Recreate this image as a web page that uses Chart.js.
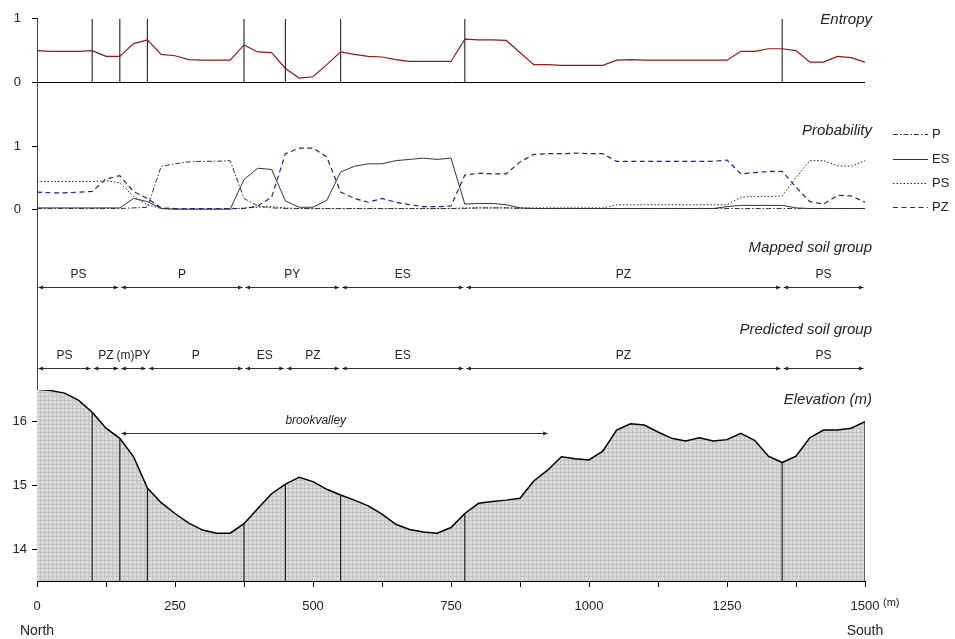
<!DOCTYPE html>
<html>
<head>
<meta charset="utf-8">
<title>Transect North - South</title>
<script src="https://cdn.jsdelivr.net/npm/chart.js@4.4.1/dist/chart.umd.min.js"></script>
<style>
  html, body { margin: 0; padding: 0; background: #fff; }
  #wrap { width: 955px; height: 639px; }
</style>
</head>
<body>
<div id="wrap"><canvas id="chart-transect"></canvas></div>
<script>
// distance along the transect (m)
var distance = [0, 25, 50, 75, 100, 125, 150, 175, 200, 225,
    250, 275, 300, 325, 350, 375, 400, 425, 450, 475,
    500, 525, 550, 575, 600, 625, 650, 675, 700, 725,
    750, 775, 800, 825, 850, 875, 900, 925, 950, 975,
    1000, 1025, 1050, 1075, 1100, 1125, 1150, 1175, 1200, 1225,
    1250, 1275, 1300, 1325, 1350, 1375, 1400, 1425, 1450, 1475,
    1500];

var entropy = [0.50, 0.49, 0.49, 0.49, 0.50, 0.41, 0.41, 0.61, 0.67, 0.44,
    0.42, 0.36, 0.35, 0.35, 0.35, 0.59, 0.48, 0.47, 0.22, 0.07,
    0.09, 0.28, 0.48, 0.44, 0.41, 0.40, 0.36, 0.33, 0.33, 0.33,
    0.33, 0.68, 0.67, 0.67, 0.66, 0.47, 0.28, 0.28, 0.27, 0.27,
    0.27, 0.27, 0.35, 0.36, 0.35, 0.35, 0.35, 0.35, 0.35, 0.35,
    0.35, 0.49, 0.49, 0.53, 0.53, 0.50, 0.32, 0.32, 0.41, 0.39,
    0.32];

// class probabilities
var probP = [0.01, 0.01, 0.01, 0.01, 0.01, 0.01, 0.01, 0.02, 0.03, 0.68,
    0.72, 0.75, 0.76, 0.76, 0.77, 0.17, 0.05, 0.02, 0.01, 0.01,
    0.01, 0.01, 0.01, 0.01, 0.01, 0.01, 0.01, 0.01, 0.01, 0.01,
    0.01, 0.01, 0.02, 0.02, 0.02, 0.01, 0.01, 0.01, 0.01, 0.01,
    0.01, 0.01, 0.01, 0.01, 0.01, 0.01, 0.01, 0.01, 0.01, 0.01,
    0.01, 0.01, 0.01, 0.01, 0.01, 0.01, 0.01, 0.01, 0.01, 0.01,
    0.01];
var probES = [0.02, 0.02, 0.02, 0.02, 0.02, 0.02, 0.02, 0.17, 0.12, 0.01,
    0.00, 0.00, 0.00, 0.00, 0.00, 0.47, 0.65, 0.63, 0.13, 0.03,
    0.03, 0.14, 0.59, 0.68, 0.72, 0.72, 0.77, 0.79, 0.81, 0.79,
    0.81, 0.08, 0.09, 0.09, 0.07, 0.02, 0.01, 0.01, 0.01, 0.01,
    0.01, 0.01, 0.01, 0.01, 0.01, 0.01, 0.01, 0.01, 0.01, 0.01,
    0.04, 0.06, 0.06, 0.06, 0.06, 0.02, 0.01, 0.01, 0.01, 0.01,
    0.01];
var probPS = [0.44, 0.44, 0.44, 0.44, 0.44, 0.45, 0.42, 0.20, 0.07, 0.01,
    0.00, 0.00, 0.00, 0.00, 0.00, 0.02, 0.03, 0.04, 0.02, 0.01,
    0.01, 0.01, 0.01, 0.01, 0.01, 0.01, 0.01, 0.01, 0.01, 0.01,
    0.01, 0.02, 0.02, 0.02, 0.02, 0.02, 0.02, 0.02, 0.02, 0.02,
    0.02, 0.02, 0.07, 0.07, 0.07, 0.07, 0.07, 0.07, 0.07, 0.07,
    0.07, 0.19, 0.20, 0.20, 0.21, 0.50, 0.77, 0.77, 0.69, 0.68,
    0.77];
var probPZ = [0.27, 0.26, 0.26, 0.27, 0.28, 0.48, 0.53, 0.28, 0.17, 0.02,
    0.01, 0.01, 0.01, 0.01, 0.01, 0.01, 0.05, 0.19, 0.88, 0.97,
    0.97, 0.83, 0.27, 0.17, 0.11, 0.17, 0.11, 0.07, 0.04, 0.04,
    0.05, 0.54, 0.57, 0.56, 0.56, 0.75, 0.87, 0.88, 0.88, 0.89,
    0.88, 0.88, 0.76, 0.76, 0.76, 0.76, 0.76, 0.76, 0.76, 0.76,
    0.78, 0.56, 0.58, 0.60, 0.60, 0.35, 0.12, 0.08, 0.22, 0.21,
    0.11];

// surface elevation (m)
var elevation = [16.51, 16.49, 16.45, 16.34, 16.15, 15.90, 15.74, 15.45, 14.96, 14.73,
    14.56, 14.41, 14.30, 14.25, 14.25, 14.40, 14.64, 14.87, 15.02, 15.13,
    15.06, 14.94, 14.85, 14.77, 14.68, 14.55, 14.39, 14.31, 14.27, 14.25,
    14.34, 14.56, 14.72, 14.75, 14.77, 14.80, 15.07, 15.24, 15.45, 15.42,
    15.40, 15.54, 15.87, 15.97, 15.95, 15.84, 15.74, 15.70, 15.75, 15.70,
    15.72, 15.82, 15.71, 15.46, 15.36, 15.46, 15.75, 15.87, 15.87, 15.90,
    16.00];

// soil groups along the transect
var mappedGroups = ['PS', 'P', 'PY', 'ES', 'PZ', 'PS'];
var mappedBreaks = [0, 150, 375, 550, 775, 1350, 1500];
var predictedGroups = ['PS', 'PZ', '(m)PY', 'P', 'ES', 'PZ', 'ES', 'PZ', 'PS'];
var predictedBreaks = [0, 100, 150, 200, 375, 450, 550, 775, 1350, 1500];

var brookValley = [150, 925];
var brookLevel = 15.82;

var xTicks = [0, 250, 500, 750, 1000, 1250, 1500];
var entropyTicks = [0, 1];
var probTicks = [0, 1];
var elevTicks = [14, 15, 16];

var ELEV_BASE = 13.5;
var FONT = "Arial, 'Liberation Sans', sans-serif";

Chart.defaults.font.family = FONT;
Chart.defaults.color = '#222';

function pts(values) {
    return distance.map(function (d, i) { return { x: d, y: values[i] }; });
}

// vertical lines at the predicted class boundaries
var innerBreaks = predictedBreaks.slice(1, -1);
var entropyBreakLines = [];
innerBreaks.forEach(function (b) {
    entropyBreakLines.push({ x: b, y: 0 }, { x: b, y: 1 }, { x: b, y: null });
});
var elevBreakLines = [];
innerBreaks.concat([1500]).forEach(function (b) {
    var e = elevation[distance.indexOf(b)];
    elevBreakLines.push({ x: b, y: e }, { x: b, y: ELEV_BASE }, { x: b, y: null });
});

// fine cross hatch for the elevation profile
var pc = document.createElement('canvas');
pc.width = 4; pc.height = 4;
var pctx = pc.getContext('2d');
pctx.fillStyle = '#dadada';
pctx.fillRect(0, 0, 4, 4);
pctx.fillStyle = '#c3c3c3';
pctx.fillRect(0, 0, 4, 1);
pctx.fillRect(0, 0, 1, 4);
var hatch = pctx.createPattern(pc, 'repeat');

function fixTicks(values) {
    return function (scale) {
        scale.ticks = values.map(function (v) { return { value: v }; });
    };
}
function fixWidth(scale) { scale.width = 37; }

function head(c, x, y, dir) {
    c.beginPath();
    c.moveTo(x, y);
    c.lineTo(x + dir * 4.5, y - 2);
    c.lineTo(x + dir * 4.5, y + 2);
    c.closePath();
    c.fill();
}
function arrow(c, x1, x2, y) {
    c.beginPath();
    c.moveTo(x1, y);
    c.lineTo(x2, y);
    c.stroke();
    head(c, x1, y, 1);
    head(c, x2, y, -1);
}

var transectDecor = {
    id: 'transectDecor',
    afterDatasetsDraw: function (chart) {
        var c = chart.ctx, sx = chart.scales.x, area = chart.chartArea;
        var yEnt = chart.scales.yEnt, yProb = chart.scales.yProb;
        var yGrp = chart.scales.yGroup, yElev = chart.scales.yElev;
        c.save();
        c.strokeStyle = '#333';
        c.fillStyle = '#222';
        c.lineWidth = 1;
        c.textAlign = 'center';
        c.textBaseline = 'middle';

        // mapped and predicted soil groups
        c.font = '12px ' + FONT;
        [[mappedBreaks, mappedGroups, 2], [predictedBreaks, predictedGroups, 1]].forEach(function (row) {
            var y = Math.round(yGrp.getPixelForValue(row[2])) + 0.5;
            for (var i = 0; i < row[1].length; i++) {
                var a = sx.getPixelForValue(row[0][i]), b = sx.getPixelForValue(row[0][i + 1]);
                arrow(c, a + 1.5, b - 1.5, y);
                c.fillText(row[1][i], (a + b) / 2, y - 13);
            }
        });

        // brook valley
        var by = Math.round(yElev.getPixelForValue(brookLevel)) + 0.5;
        arrow(c, sx.getPixelForValue(brookValley[0]) + 1.5, sx.getPixelForValue(brookValley[1]), by);
        c.font = 'italic 12px ' + FONT;
        c.fillText('brookvalley', sx.getPixelForValue(505), by - 13);

        // panel titles
        c.font = 'italic 15px ' + FONT;
        c.textAlign = 'right';
        var tx = area.right + 7;
        c.fillText('Entropy', tx, yEnt.getPixelForValue(0.98));
        c.fillText('Probability', tx, yProb.getPixelForValue(1.25));
        c.fillText('Mapped soil group', tx, yGrp.getPixelForValue(2.49));
        c.fillText('Predicted soil group', tx, yGrp.getPixelForValue(1.47));
        c.fillText('Elevation (m)', tx, yElev.getPixelForValue(16.34));

        // probability legend
        c.font = '13px ' + FONT;
        c.textAlign = 'left';
        var ly = yProb.getPixelForValue(1.19);
        chart.data.datasets.forEach(function (ds) {
            if (!ds.legend) return;
            var y = Math.round(ly) + 0.5;
            c.save();
            c.strokeStyle = ds.borderColor;
            c.lineWidth = ds.borderWidth;
            c.setLineDash(ds.borderDash || []);
            c.beginPath();
            c.moveTo(area.right + 28, y);
            c.lineTo(area.right + 63, y);
            c.stroke();
            c.restore();
            c.fillText(ds.label, area.right + 67, y);
            ly += 24.4;
        });

        // direction and unit
        c.font = '14px ' + FONT;
        c.textAlign = 'center';
        c.fillText('North', sx.getPixelForValue(0), area.bottom + 50);
        c.fillText('South', sx.getPixelForValue(1500), area.bottom + 50);
        c.font = '11px ' + FONT;
        c.textAlign = 'left';
        c.fillText('(m)', sx.getPixelForValue(1500) + 18, area.bottom + 22);
        c.restore();
    }
};

var config = {
    type: 'line',
    data: {
        datasets: [
            { label: 'Entropy', data: pts(entropy), yAxisID: 'yEnt',
              borderColor: '#8b1a1a', borderWidth: 1.2 },
            { label: 'breaks', data: entropyBreakLines, yAxisID: 'yEnt',
              borderColor: '#333', borderWidth: 1.2, spanGaps: false },
            { label: 'P', legend: true, data: pts(probP), yAxisID: 'yProb',
              borderColor: '#333', borderWidth: 1, borderDash: [5, 2, 1.5, 2] },
            { label: 'ES', legend: true, data: pts(probES), yAxisID: 'yProb',
              borderColor: '#333', borderWidth: 1 },
            { label: 'PS', legend: true, data: pts(probPS), yAxisID: 'yProb',
              borderColor: '#222', borderWidth: 1, borderDash: [1.5, 2] },
            { label: 'PZ', legend: true, data: pts(probPZ), yAxisID: 'yProb',
              borderColor: '#1e1ea0', borderWidth: 1.2, borderDash: [5, 3.5] },
            { label: 'profile breaks', data: elevBreakLines, yAxisID: 'yElev',
              borderColor: '#222', borderWidth: 1.2, spanGaps: false },
            { label: 'Elevation', data: pts(elevation), yAxisID: 'yElev',
              borderColor: '#000', borderWidth: 1.5, fill: 'start', backgroundColor: hatch }
        ]
    },
    options: {
        responsive: true,
        maintainAspectRatio: false,
        animation: false,
        layout: { padding: { left: 0, right: 90, top: 16, bottom: 0 } },
        elements: { point: { radius: 0 }, line: { tension: 0 } },
        plugins: { legend: { display: false }, tooltip: { enabled: false } },
        // stacked panels are laid out bottom-up in the order given here
        scales: {
            x: {
                type: 'linear', min: 0, max: 1500,
                afterFit: function (s) { s.height = 58; },
                border: { color: '#000' },
                grid: { drawOnChartArea: false, tickLength: 6, tickColor: '#000' },
                ticks: {
                    stepSize: 125, autoSkip: false, maxRotation: 0, padding: 12,
                    font: { size: 13 },
                    callback: function (v) { return xTicks.indexOf(v) >= 0 ? v : ''; }
                }
            },
            yElev: {
                type: 'linear', position: 'left', stack: 'transect', stackWeight: 192,
                min: ELEV_BASE, max: 16.5,
                afterBuildTicks: fixTicks(elevTicks), afterFit: fixWidth,
                border: { color: '#444' },
                grid: { drawOnChartArea: false, tickLength: 5, tickColor: '#000' },
                ticks: { padding: 5, font: { size: 13 } }
            },
            yGroup: {
                type: 'linear', position: 'left', stack: 'transect', stackWeight: 164,
                min: 0.725, max: 2.749,
                afterBuildTicks: fixTicks([]), afterFit: fixWidth,
                border: { color: '#444' },
                grid: { display: false },
                ticks: { display: false }
            },
            yProb: {
                type: 'linear', position: 'left', stack: 'transect', stackWeight: 113,
                min: -0.2796, max: 1.5055,
                afterBuildTicks: fixTicks(probTicks), afterFit: fixWidth,
                border: { color: '#444' },
                grid: { drawOnChartArea: false, tickLength: 5, tickColor: '#000' },
                ticks: { padding: 11, font: { size: 13 } }
            },
            yEnt: {
                type: 'linear', position: 'left', stack: 'transect', stackWeight: 96,
                min: -0.5, max: 1,
                afterBuildTicks: fixTicks(entropyTicks), afterFit: fixWidth,
                border: { color: '#444' },
                grid: {
                    tickLength: 5, tickColor: '#000',
                    color: function (ctx) { return ctx.tick && ctx.tick.value === 0 ? '#000' : 'rgba(0,0,0,0)'; }
                },
                ticks: { padding: 11, font: { size: 13 } }
            }
        }
    },
    plugins: [transectDecor]
};

var ctx = document.getElementById('chart-transect').getContext('2d');
new Chart(ctx, config);
</script>
</body>
</html>
